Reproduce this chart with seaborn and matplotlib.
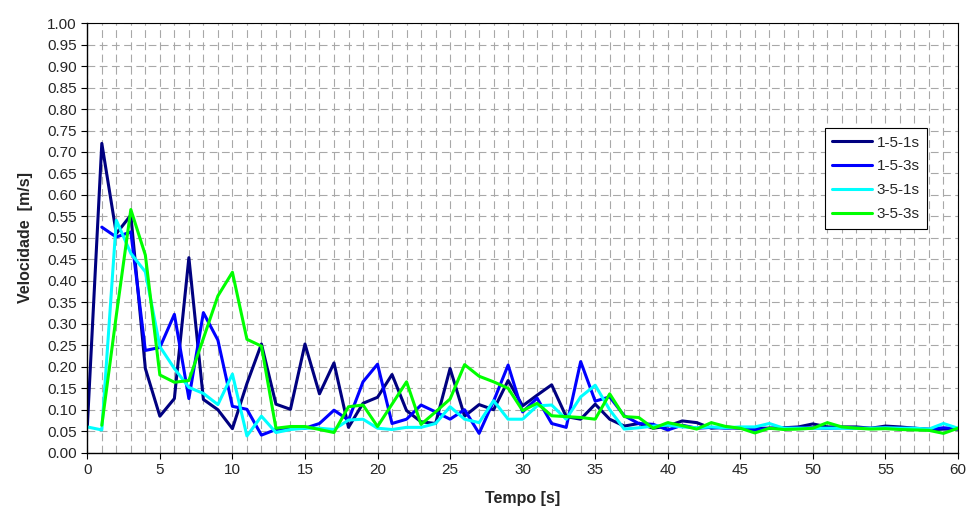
import numpy as np
import pandas as pd
import matplotlib
matplotlib.use("Agg")
import matplotlib.pyplot as plt
import seaborn as sns
from matplotlib.ticker import MultipleLocator

nan = np.nan
tempo = list(range(0, 61))

s_151 = [0.060, 0.720, 0.510, 0.553, 0.196, 0.085, 0.126, 0.454, 0.124, 0.100,
         0.056, 0.161, 0.253, 0.113, 0.101, 0.253, 0.137, 0.209, 0.059, 0.115,
         0.129, 0.182, 0.098, 0.072, 0.068, 0.196, 0.085, 0.112, 0.100, 0.168,
         0.109, 0.134, 0.158, 0.084, 0.078, 0.113, 0.078, 0.062, 0.068, 0.057,
         0.062, 0.074, 0.070, 0.057, 0.060, 0.057, 0.057, 0.057, 0.058, 0.060,
         0.067, 0.060, 0.060, 0.060, 0.057, 0.062, 0.060, 0.057, 0.053, 0.055,
         0.055]
s_153 = [nan, 0.525, 0.502, 0.514, 0.238, 0.245, 0.322, 0.126, 0.326, 0.262,
         0.108, 0.101, 0.041, 0.054, 0.057, 0.057, 0.068, 0.099, 0.076, 0.165,
         0.206, 0.068, 0.078, 0.111, 0.095, 0.078, 0.100, 0.045, 0.120, 0.204,
         0.095, 0.127, 0.068, 0.059, 0.212, 0.120, 0.130, 0.086, 0.068, 0.066,
         0.053, 0.064, 0.057, 0.059, 0.057, 0.058, 0.053, 0.057, 0.057, 0.058,
         0.058, 0.057, 0.058, 0.057, 0.057, 0.058, 0.057, 0.057, 0.055, 0.058,
         0.056]
s_351 = [0.060, 0.053, 0.541, 0.464, 0.421, 0.247, 0.196, 0.152, 0.138, 0.112,
         0.183, 0.039, 0.085, 0.047, 0.054, 0.057, 0.057, 0.054, 0.076, 0.078,
         0.057, 0.054, 0.059, 0.059, 0.068, 0.107, 0.078, 0.070, 0.121, 0.078,
         0.078, 0.109, 0.111, 0.078, 0.130, 0.157, 0.100, 0.055, 0.058, 0.062,
         0.064, 0.060, 0.058, 0.060, 0.058, 0.060, 0.060, 0.068, 0.057, 0.057,
         0.057, 0.057, 0.057, 0.057, 0.057, 0.058, 0.057, 0.057, 0.055, 0.068,
         0.057]
s_353 = [nan, 0.064, 0.320, 0.566, 0.460, 0.181, 0.164, 0.168, 0.266, 0.365,
         0.420, 0.264, 0.248, 0.057, 0.061, 0.061, 0.054, 0.047, 0.107, 0.111,
         0.061, 0.113, 0.165, 0.066, 0.095, 0.125, 0.205, 0.178, 0.165, 0.150,
         0.098, 0.115, 0.086, 0.084, 0.082, 0.078, 0.137, 0.084, 0.082, 0.057,
         0.070, 0.063, 0.055, 0.070, 0.061, 0.057, 0.046, 0.057, 0.054, 0.055,
         0.057, 0.070, 0.060, 0.057, 0.055, 0.056, 0.054, 0.053, 0.052, 0.045,
         0.057]

series_names = ["1-5-1s", "1-5-3s", "3-5-1s", "3-5-3s"]
series_vals = [s_151, s_153, s_351, s_353]
colors = ["#000080", "#0000FF", "#00FFFF", "#00FF00"]

frames = []
for name, vals in zip(series_names, series_vals):
    frames.append(pd.DataFrame({"Tempo": tempo, "Velocidade": vals, "Serie": name}))
df = pd.concat(frames, ignore_index=True).dropna()

sns.set_style("white")
plt.rcParams["font.family"] = ["Liberation Sans", "DejaVu Sans"]

fig = plt.figure(figsize=(9.7, 5.25), dpi=100)
ax = fig.add_axes([0.09, 0.1377, 0.8976, 0.8183])

sns.lineplot(data=df, x="Tempo", y="Velocidade", hue="Serie",
             hue_order=series_names, palette=colors, linewidth=2.2,
             estimator=None, ax=ax, legend=True)

ax.set_xlim(0, 60)
ax.set_ylim(0, 1.0)
ax.xaxis.set_major_locator(MultipleLocator(5))
ax.xaxis.set_minor_locator(MultipleLocator(1))
ax.yaxis.set_major_locator(MultipleLocator(0.05))
ax.yaxis.set_major_formatter(matplotlib.ticker.FormatStrFormatter("%.2f"))

gstyle = dict(color="#a8a8a8", linestyle=(0, (7, 4)), linewidth=0.8)
ax.grid(True, which="major", axis="y", **gstyle)
ax.grid(True, which="minor", axis="x", **gstyle)
ax.grid(True, which="major", axis="x", **gstyle)
ax.set_axisbelow(True)

for s in ax.spines.values():
    s.set_visible(True)
    s.set_color("black")
    s.set_linewidth(1.0)
ax.spines["top"].set_linewidth(0.8)
ax.spines["right"].set_linewidth(0.8)

ax.tick_params(axis="both", which="major", direction="out", length=4, width=0.8,
               labelsize=11, color="black", left=True, bottom=True)
ax.tick_params(axis="x", which="minor", length=0)

ax.set_xlabel("Tempo [s]", fontsize=11.5, fontweight="bold", labelpad=10)
ax.set_ylabel("Velocidade  [m/s]", fontsize=11.5, fontweight="bold", labelpad=10)

leg = ax.legend(loc="upper left", bbox_to_anchor=(0.847, 0.756), borderaxespad=0,
                frameon=True, fancybox=False, edgecolor="black", fontsize=11,
                handlelength=2.6, labelspacing=0.65, borderpad=0.5, handletextpad=0.3)
leg.get_frame().set_linewidth(0.8)
leg.get_frame().set_facecolor("white")
leg.get_frame().set_alpha(1)
for line in leg.get_lines():
    line.set_linewidth(2.2)

fig.savefig("out.png", dpi=100, facecolor="white")
